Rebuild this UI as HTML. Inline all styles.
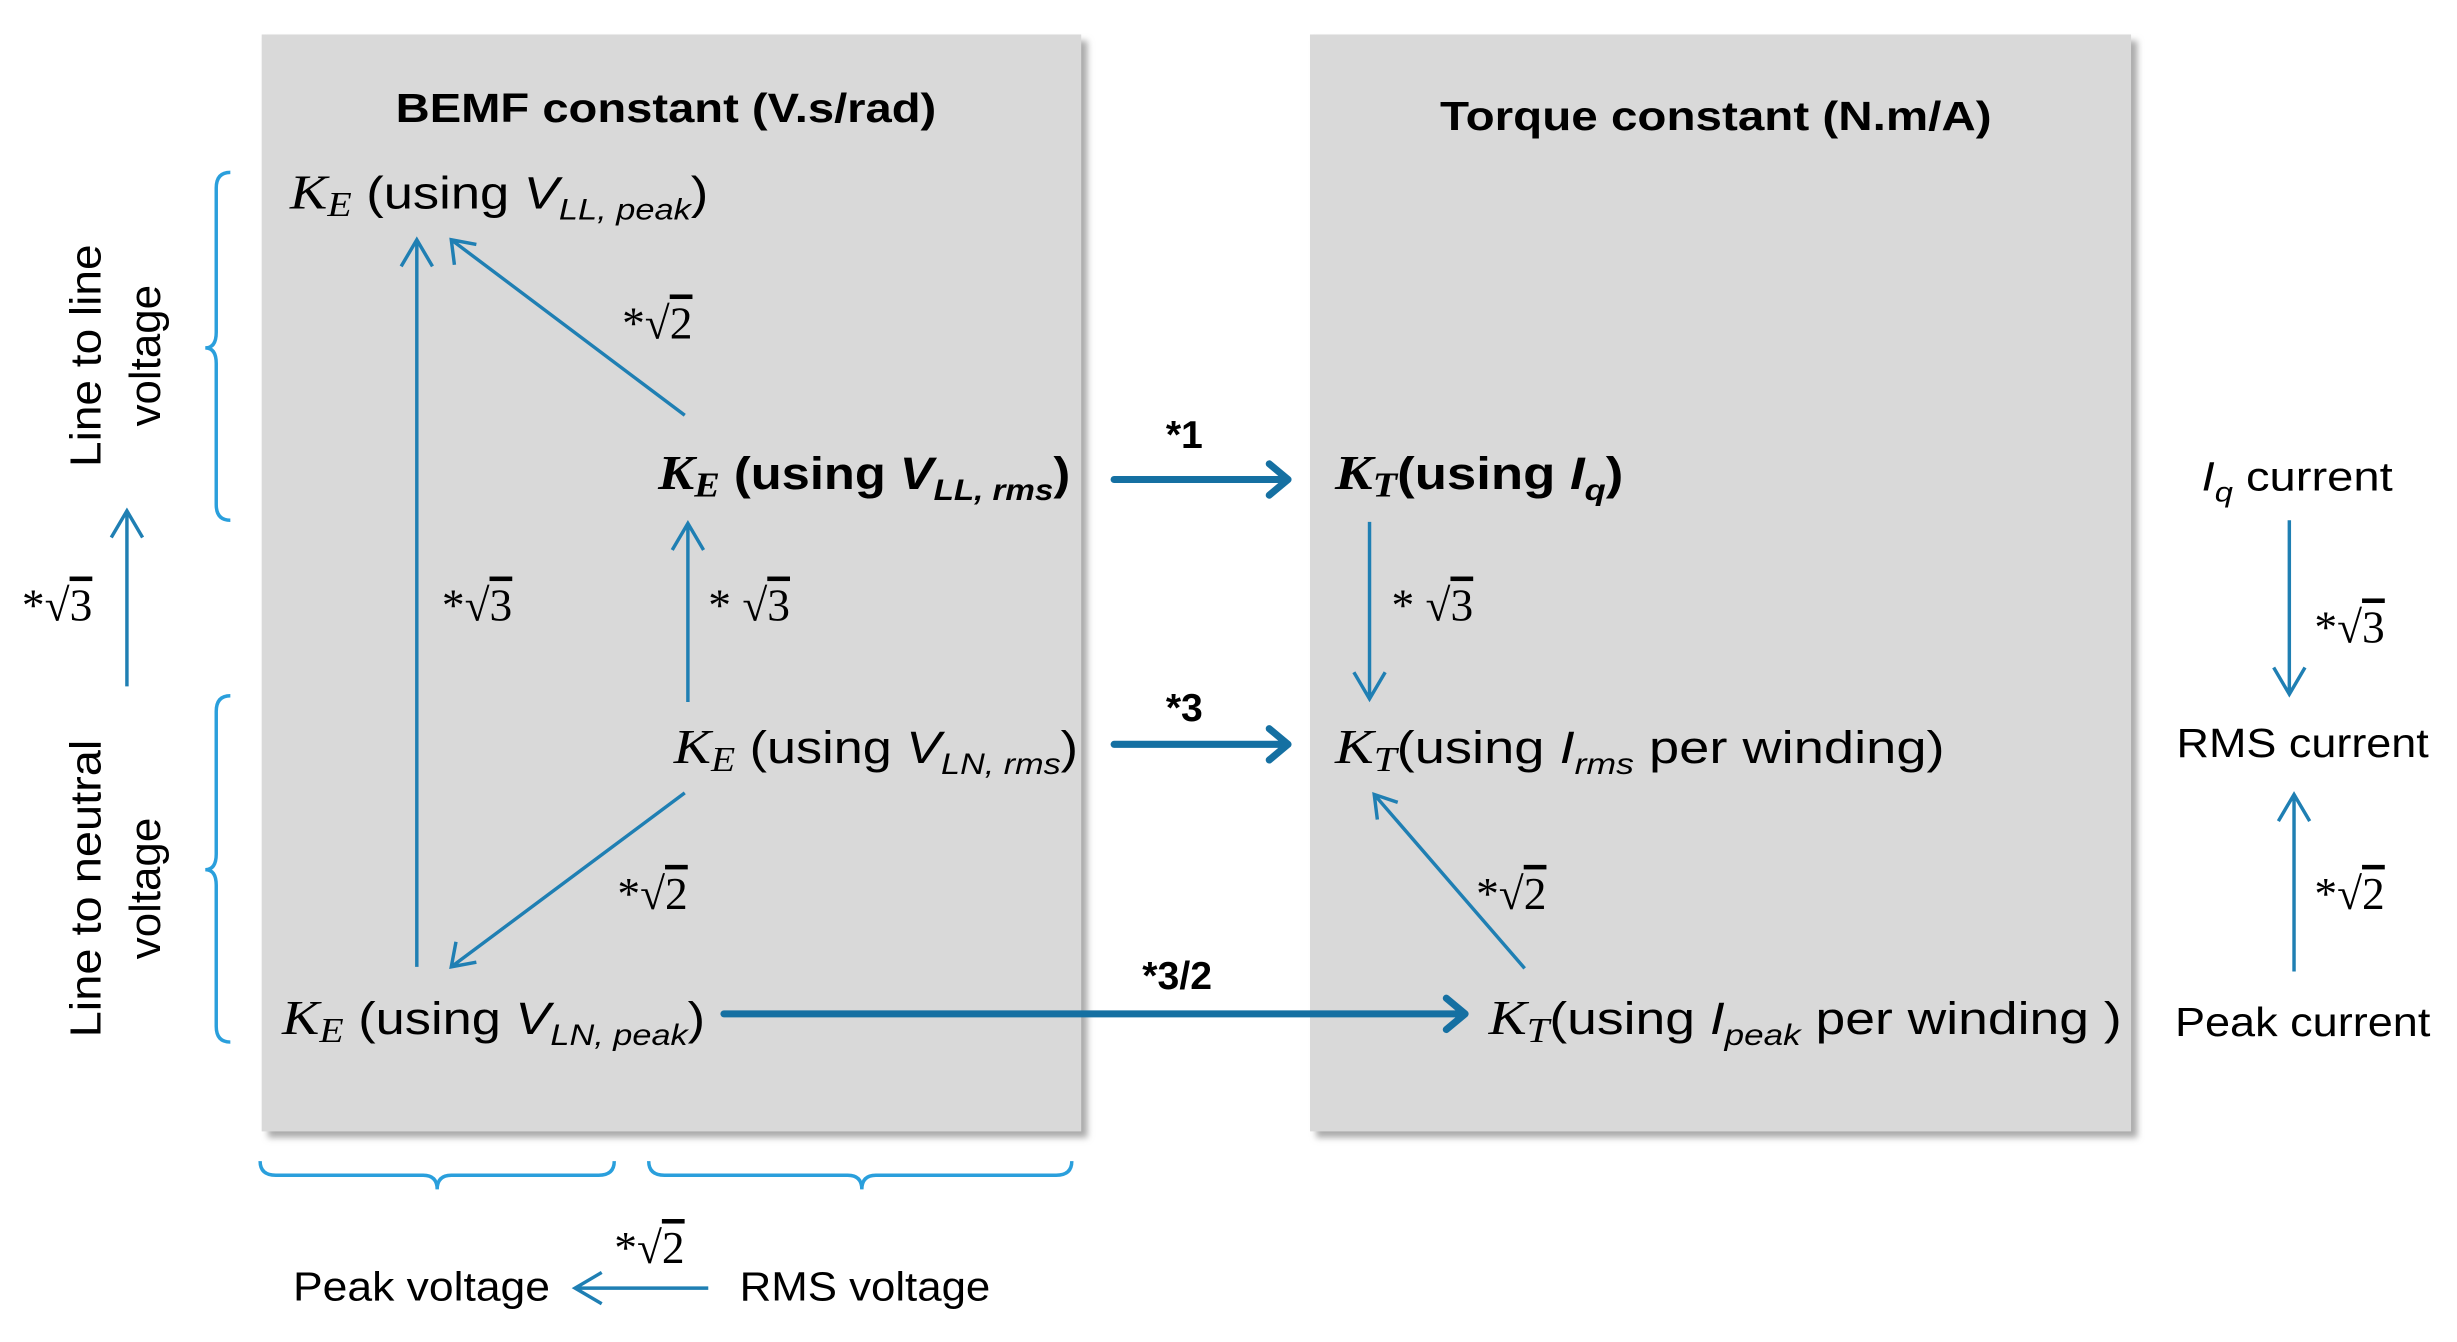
<!DOCTYPE html>
<html><head><meta charset="utf-8"><style>
html,body{margin:0;padding:0;background:#fff;}
svg{display:block;}
text{font-family:"Liberation Sans",sans-serif;fill:#000;}
.m{font-family:"Liberation Serif",serif;font-style:italic;}
.ms{font-family:"Liberation Serif",serif;}
.t{stroke:#1f7fb3;stroke-width:2.2;fill:none;}
.T{stroke:#1570a2;stroke-width:4.5;fill:none;stroke-linecap:round;stroke-linejoin:round;}
.b{stroke:#2a9fdc;stroke-width:2.2;fill:none;}
</style></head><body>
<svg width="2457" height="1342" viewBox="0 0 1568 856.4" preserveAspectRatio="none">
<defs>
<filter id="sh" x="-5%" y="-5%" width="110%" height="110%"><feGaussianBlur stdDeviation="2"/></filter>
</defs>
<rect x="171" y="26" width="523" height="700" fill="#aaa" filter="url(#sh)"/>
<rect x="167" y="22" width="523" height="700" fill="#d9d9d9"/>
<rect x="840" y="26" width="524" height="700" fill="#aaa" filter="url(#sh)"/>
<rect x="836" y="22" width="524" height="700" fill="#d9d9d9"/>

<text x="425" y="78" font-size="26" font-weight="bold" text-anchor="middle" textLength="345" lengthAdjust="spacingAndGlyphs">BEMF constant (V.s/rad)</text>
<text x="1095" y="83" font-size="26" font-weight="bold" text-anchor="middle" textLength="352" lengthAdjust="spacingAndGlyphs">Torque constant (N.m/A)</text>

<text x="185" y="133" font-size="29" textLength="267" lengthAdjust="spacingAndGlyphs"><tspan class="m" font-size="31">K</tspan><tspan class="m" font-size="22" dy="5">E</tspan><tspan dy="-5"> (using </tspan><tspan font-style="italic">V</tspan><tspan font-style="italic" font-size="19" dy="7">LL, peak</tspan><tspan dy="-7">)</tspan></text>
<text x="420" y="312" font-size="29" font-weight="bold" textLength="263" lengthAdjust="spacingAndGlyphs"><tspan class="m" font-weight="bold" font-size="31">K</tspan><tspan class="m" font-weight="bold" font-size="22" dy="5">E</tspan><tspan dy="-5"> (using </tspan><tspan font-style="italic">V</tspan><tspan font-style="italic" font-size="19" dy="7">LL, rms</tspan><tspan dy="-7">)</tspan></text>
<text x="430" y="487" font-size="29" textLength="258" lengthAdjust="spacingAndGlyphs"><tspan class="m" font-size="31">K</tspan><tspan class="m" font-size="22" dy="5">E</tspan><tspan dy="-5"> (using </tspan><tspan font-style="italic">V</tspan><tspan font-style="italic" font-size="19" dy="7">LN, rms</tspan><tspan dy="-7">)</tspan></text>
<text x="180" y="660" font-size="29" textLength="270" lengthAdjust="spacingAndGlyphs"><tspan class="m" font-size="31">K</tspan><tspan class="m" font-size="22" dy="5">E</tspan><tspan dy="-5"> (using </tspan><tspan font-style="italic">V</tspan><tspan font-style="italic" font-size="19" dy="7">LN, peak</tspan><tspan dy="-7">)</tspan></text>

<text x="852" y="312" font-size="29" font-weight="bold" textLength="184" lengthAdjust="spacingAndGlyphs"><tspan class="m" font-weight="bold" font-size="31">K</tspan><tspan class="m" font-weight="bold" font-size="22" dy="5">T</tspan><tspan dy="-5">(using </tspan><tspan font-style="italic">I</tspan><tspan font-style="italic" font-size="19" dy="7">q</tspan><tspan dy="-7">)</tspan></text>
<text x="852" y="487" font-size="29" textLength="389" lengthAdjust="spacingAndGlyphs"><tspan class="m" font-size="31">K</tspan><tspan class="m" font-size="22" dy="5">T</tspan><tspan dy="-5">(using </tspan><tspan font-style="italic">I</tspan><tspan font-style="italic" font-size="19" dy="7">rms</tspan><tspan dy="-7"> per winding)</tspan></text>
<text x="950" y="660" font-size="29" textLength="404" lengthAdjust="spacingAndGlyphs"><tspan class="m" font-size="31">K</tspan><tspan class="m" font-size="22" dy="5">T</tspan><tspan dy="-5">(using </tspan><tspan font-style="italic">I</tspan><tspan font-style="italic" font-size="19" dy="7">peak</tspan><tspan dy="-7"> per winding )</tspan></text>

<text x="1405" y="313" font-size="26" textLength="122" lengthAdjust="spacingAndGlyphs"><tspan font-style="italic">I</tspan><tspan font-style="italic" font-size="18" dy="7">q</tspan><tspan dy="-7"> current</tspan></text>
<text x="1389" y="483" font-size="26" textLength="161" lengthAdjust="spacingAndGlyphs">RMS current</text>
<text x="1388" y="661" font-size="26" textLength="163" lengthAdjust="spacingAndGlyphs">Peak current</text>
<text x="187" y="830" font-size="26" textLength="164" lengthAdjust="spacingAndGlyphs">Peak voltage</text>
<text x="472" y="830" font-size="26" textLength="160" lengthAdjust="spacingAndGlyphs">RMS voltage</text>

<text transform="translate(64,227) rotate(-90)" font-size="28" text-anchor="middle" textLength="142" lengthAdjust="spacingAndGlyphs">Line to line</text>
<text transform="translate(102,227) rotate(-90)" font-size="28" text-anchor="middle">voltage</text>
<text transform="translate(64,567) rotate(-90)" font-size="28" text-anchor="middle" textLength="190" lengthAdjust="spacingAndGlyphs">Line to neutral</text>
<text transform="translate(102,567) rotate(-90)" font-size="28" text-anchor="middle">voltage</text>

<g font-size="29" class="ms">
<text x="397" y="216" class="ms">*√<tspan text-decoration="overline">2</tspan></text>
<text x="282" y="396" class="ms">*√<tspan text-decoration="overline">3</tspan></text>
<text x="452" y="396" class="ms">* √<tspan text-decoration="overline">3</tspan></text>
<text x="394" y="580" class="ms">*√<tspan text-decoration="overline">2</tspan></text>
<text x="14" y="396" class="ms">*√<tspan text-decoration="overline">3</tspan></text>
<text x="888" y="396" class="ms">* √<tspan text-decoration="overline">3</tspan></text>
<text x="942" y="580" class="ms">*√<tspan text-decoration="overline">2</tspan></text>
<text x="1477" y="410" class="ms">*√<tspan text-decoration="overline">3</tspan></text>
<text x="1477" y="580" class="ms">*√<tspan text-decoration="overline">2</tspan></text>
<text x="392" y="806" class="ms">*√<tspan text-decoration="overline">2</tspan></text>
</g>
<text x="744" y="286" font-size="25" font-weight="bold">*1</text>
<text x="744" y="460" font-size="25" font-weight="bold">*3</text>
<text x="729" y="631" font-size="25" font-weight="bold">*3/2</text>

<g class="t">
<path d="M266,617 V153 M256,170 L266,153 L276,170"/>
<path d="M437,265 L288,153 M290,169 L288,153 L304,156"/>
<path d="M439,448 V334 M429,351 L439,334 L449,351"/>
<path d="M437,506 L288,617 M291,601 L288,617 L304,614"/>
<path d="M81,438 V326 M71,343 L81,326 L91,343"/>
<path d="M874,333 V446 M864,429 L874,446 L884,429"/>
<path d="M973,618 L877,507 M879,523 L877,507 L892,512"/>
<path d="M1461,332 V443 M1451,426 L1461,443 L1471,426"/>
<path d="M1464,620 V507 M1454,524 L1464,507 L1474,524"/>
<path d="M452,822 H367 M384,812 L367,822 L384,832"/>
</g>
<g class="T">
<path d="M711,306 H822 M810,296 L822,306 L810,316"/>
<path d="M711,475 H822 M810,465 L822,475 L810,485"/>
<path d="M462,647 H935 M923,637 L935,647 L923,657"/>
</g>
<g class="b">
<path d="M147,110 Q138,110 138,120 V212 Q138,222 131,222 Q138,222 138,232 V322 Q138,332 147,332"/>
<path d="M147,444 Q138,444 138,454 V545 Q138,555 131,555 Q138,555 138,565 V655 Q138,665 147,665"/>
<path d="M166,741 Q166,750 176,750 H270 Q279,750 279,759 Q279,750 288,750 H382 Q392,750 392,741"/>
<path d="M414,741 Q414,750 424,750 H541 Q550,750 550,759 Q550,750 559,750 H674 Q684,750 684,741"/>
</g>
</svg>
</body></html>
